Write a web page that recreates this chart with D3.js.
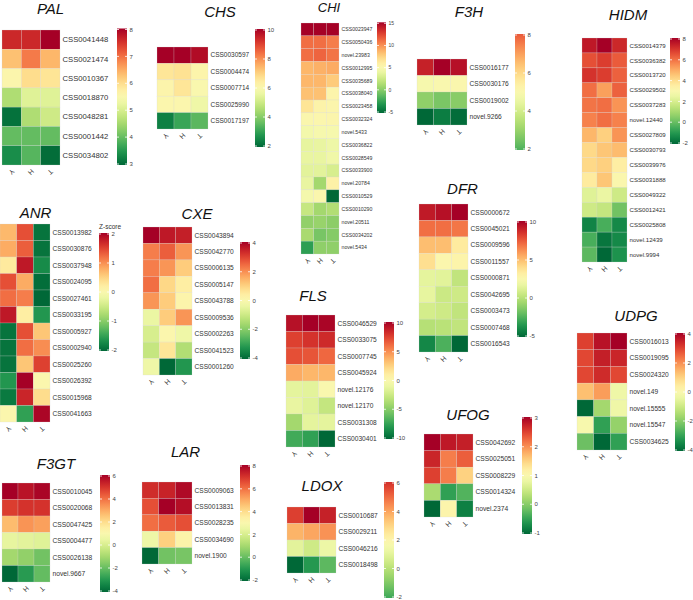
<!DOCTYPE html>
<html>
<head>
<meta charset="utf-8">
<script src="https://cdn.jsdelivr.net/npm/d3@7"></script>
<style>
  body { margin: 0; background: #fff; }
  text { font-family: "Liberation Sans", Arial, sans-serif; }
</style>
</head>
<body>
<svg id="chart" width="693" height="600"></svg>
<script>
// columns of every heatmap
const samples = ['Y', 'H', 'T']

const palGenes = ['CSS0041448', 'CSS0021474', 'CSS0010367', 'CSS0018870', 'CSS0048281', 'CSS0001442', 'CSS0034802']
const palValues = [[7.6, 7.6, 8.0], [6.3, 6.9, 6.4], [5.6, 6.0, 5.9], [4.6, 5.1, 5.1], [3.1, 4.6, 4.9], [4.0, 4.0, 4.0], [3.4, 3.9, 3.05]]

const chsGenes = ['CSS0030597', 'CSS0004474', 'CSS0007714', 'CSS0025990', 'CSS0017197']
const chsValues = [[10, 10, 9.8], [6.6, 6.7, 6.2], [6.2, 6.6, 6.0], [6.1, 6.1, 5.7], [2.4, 3.1, 3.5]]

const chiGenes = ['CSS0023947', 'CSS0050436', 'novel.23983', 'CSS0012995', 'CSS0035689', 'CSS0038040', 'CSS0023458',
    'CSS0032324', 'novel.5433', 'CSS0036822', 'CSS0028549', 'CSS0033900', 'novel.20784', 'CSS0010529',
    'CSS0010290', 'novel.20511', 'CSS0034202', 'novel.5434']
const chiValues = [[15, 15, 15], [11, 11, 10.5], [11, 11.3, 10.8], [8.6, 8.8, 9.0], [8.6, 8.6, 7.8], [8.2, 8.2, 5.5],
    [6.6, 5.6, 5.4], [5.2, 5.3, 5.4], [4.5, 4.8, 4.8], [3.8, 3.9, 4.2], [3.9, 3.9, 4.3], [3.6, 3.6, 3.0],
    [3.9, 1.0, 5.8], [4.6, 5.2, -5], [2.3, 1.0, 1.5], [0.4, 0.6, 0.2], [1.2, -0.4, 0], [-2.6, 0.3, 0.3]]

const f3hGenes = ['CSS0016177', 'CSS0030176', 'CSS0019002', 'novel.9266']
const f3hValues = [[8.9, 9.5, 9.2], [4.9, 5.0, 5.1], [2.9, 2.6, 2.8], [0.5, 0.9, 0.6]]

const hidmGenes = ['CSS0014379', 'CSS0036382', 'CSS0013720', 'CSS0029502', 'CSS0037283', 'novel.12440', 'CSS0027809',
    'CSS0030793', 'CSS0039976', 'CSS0031888', 'CSS0049322', 'CSS0012421', 'CSS0025808', 'novel.12439', 'novel.9994']
const hidmValues = [[7.5, 8, 7.2], [6.5, 6.8, 6.3], [7.0, 6.8, 6.2], [6.0, 5.2, 6.2], [5.9, 6.0, 5.4], [5.7, 6.0, 5.7],
    [4.8, 4.3, 5.4], [4.1, 4.5, 4.7], [4.1, 4.3, 3.5], [3.6, 4.5, 3.1], [2.2, 2.5, 1.8], [1.8, 1.6, 0.2],
    [-1.4, -0.4, -1.3], [-0.4, -1.7, -1.3], [-0.1, -2.0, -1.1]]

const anrGenes = ['CSS0013982', 'CSS0030876', 'CSS0037948', 'CSS0024095', 'CSS0027461', 'CSS0033195', 'CSS0005927',
    'CSS0002940', 'CSS0025260', 'CSS0026392', 'CSS0015968', 'CSS0041663']
const anrValues = [[0.7, 1.4, -1.9], [0.8, 1.3, -1.9], [0.25, 1.8, -1.7], [1.4, 0.8, -1.95], [1.2, 1.1, -2.0],
    [1.8, 0.2, -1.6], [-1.9, 1.4, 0.6], [-1.9, 1.2, 1.0], [-1.9, 0.6, 1.5], [-1.6, 2.0, 0.05], [-1.85, 1.7, 0.4],
    [0.05, -1.5, 1.95]]

const cxeGenes = ['CSS0043894', 'CSS0042770', 'CSS0006135', 'CSS0005147', 'CSS0043788', 'CSS0009536', 'CSS0002263',
    'CSS0041523', 'CSS0001260']
const cxeValues = [[4.0, 3.6, 3.5], [2.2, 2.6, 1.9], [2.2, 1.9, 1.1], [2.4, 0.9, 0.4], [1.9, 1.1, 0.2],
    [-0.4, 1.1, 1.9], [-0.8, 0.1, -0.3], [-1.1, 0.6, -1.4], [-0.3, -4.0, -3.2]]

const dfrGenes = ['CSS0000672', 'CSS0045021', 'CSS0009596', 'CSS0011557', 'CSS0000871', 'CSS0042695', 'CSS0003473',
    'CSS0007468', 'CSS0016543']
const dfrValues = [[9.2, 9.5, 10], [7.0, 7.0, 6.8], [5.0, 5.0, 3.4], [3.9, 2.7, 2.9], [1.5, 1.4, 0.3],
    [1.6, 0.6, 0.7], [0.9, 0.7, 0.3], [0.0, 0.1, 0.3], [-4.0, -2.5, -5.0]]

const flsGenes = ['CSS0046529', 'CSS0033075', 'CSS0007745', 'CSS0045924', 'novel.12176', 'novel.12170', 'CSS0031308', 'CSS0030401']
const flsValues = [[9.3, 10, 9.8], [7.5, 8.0, 8.3], [7.0, 6.8, 6.2], [4.0, 3.6, 3.6], [-1.3, -1.4, 0.1],
    [-1.1, -1.6, -2.8], [-4.0, -1.3, -1.3], [-7.0, -7.5, -10]]

const udpgGenes = ['CSS0016013', 'CSS0019095', 'CSS0024320', 'novel.149', 'novel.15555', 'novel.15547', 'CSS0034625']
const udpgValues = [[3.0, 3.7, 4.0], [2.9, 3.5, 3.4], [2.9, 3.3, 2.9], [1.3, 1.8, -0.3], [-4.0, -1.6, -0.3],
    [-0.05, -3.0, -1.8], [-2.3, -4.0, -3.0]]

const f3gtGenes = ['CSS0010045', 'CSS0020068', 'CSS0047425', 'CSS0004477', 'CSS0026138', 'novel.9667']
const f3gtValues = [[6.0, 5.6, 5.9], [4.8, 5.0, 5.0], [2.7, 3.4, 3.2], [0.4, 0.3, 0.2], [-1.0, -1.3, -1.8], [-4.0, -2.9, -2.0]]

const larGenes = ['CSS0009063', 'CSS0013831', 'CSS0028235', 'CSS0034690', 'novel.1900']
const larValues = [[7.1, 7.3, 7.8], [6.5, 8.0, 7.7], [6.0, 6.3, 6.5], [2.6, 4.3, 3.3], [-2.0, 0.2, 0.3]]

const ldoxGenes = ['CSS0010687', 'CSS0029211', 'CSS0046216', 'CSS0018498']
const ldoxValues = [[5.7, 7.0, 6.3], [3.7, 3.95, 4.3], [1.0, 0.5, 1.3], [-3.5, -2.4, -1.5]]

const ufogGenes = ['CSS0042692', 'CSS0025051', 'CSS0008229', 'CSS0014324', 'novel.2374']
const ufogValues = [[3.0, 2.8, 2.75], [2.7, 2.1, 2.3], [2.5, 2.1, 1.5], [0.25, -0.5, -0.3], [-1.0, 1.1, -0.8]]

// legend ranges [min, max, step]
const palTicks = [3, 8, 1]
const chsTicks = [2, 10, 2]
const chiTicks = [-5, 15, 5]
const f3hTicks = [2, 8, 2]
const hidmTicks = [-2, 8, 2]
const anrTicks = [-2, 2, 1]
const cxeTicks = [-4, 4, 2]
const dfrTicks = [-5, 10, 5]
const flsTicks = [-10, 10, 5]
const udpgTicks = [-4, 4, 2]
const f3gtTicks = [-4, 6, 2]
const larTicks = [-2, 8, 2]
const ldoxTicks = [-2, 6, 2]
const ufogTicks = [-1, 3, 1]

// hm: [x0, y0, x1, y1]; title: [cx, baseline, size]; leg: [x, yMax, yMin]
const panels = [
    { title: 'PAL', genes: palGenes, values: palValues, ticks: palTicks,
      hm: [2, 30, 60, 165], t: [50.5, 13.5, 15], leg: [117, 29.5, 164], lab: 7.7 },
    { title: 'CHS', genes: chsGenes, values: chsValues, ticks: chsTicks,
      hm: [157, 47, 208, 129], t: [220, 17, 15], leg: [255, 30, 146], lab: 6.5 },
    { title: 'CHI', genes: chiGenes, values: chiValues, ticks: chiTicks,
      hm: [301, 23, 339, 254], t: [329, 12, 13], leg: [377, 23.3, 112], lab: 5.2, legW: 9, tickSize: 5 },
    { title: 'F3H', genes: f3hGenes, values: f3hValues, ticks: f3hTicks, cd: [0.5, 9.5],
      hm: [417, 59, 467, 125], t: [469, 17, 15], leg: [515, 35, 149], lab: 6.6 },
    { title: 'HIDM', genes: hidmGenes, values: hidmValues, ticks: hidmTicks,
      hm: [582, 38, 627, 262], t: [628, 20, 15], leg: [670, 39, 143], lab: 6.1 },
    { title: 'ANR', genes: anrGenes, values: anrValues, ticks: anrTicks, zlabel: true,
      hm: [0, 224, 50, 422], t: [35.5, 218, 15], leg: [99, 234, 350], lab: 6.6 },
    { title: 'CXE', genes: cxeGenes, values: cxeValues, ticks: cxeTicks,
      hm: [143, 227, 192, 375], t: [197, 219, 15], leg: [240, 243, 358], lab: 6.6 },
    { title: 'DFR', genes: dfrGenes, values: dfrValues, ticks: dfrTicks,
      hm: [419, 204, 468, 352], t: [462.5, 194, 15], leg: [517, 222, 336], lab: 6.6 },
    { title: 'FLS', genes: flsGenes, values: flsValues, ticks: flsTicks,
      hm: [286, 315, 335, 447], t: [313, 301, 15], leg: [384, 323, 438], lab: 6.6 },
    { title: 'UDPG', genes: udpgGenes, values: udpgValues, ticks: udpgTicks,
      hm: [577, 333, 627, 450], t: [636, 321, 15], leg: [675, 334, 450], lab: 6.6 },
    { title: 'F3GT', genes: f3gtGenes, values: f3gtValues, ticks: f3gtTicks,
      hm: [2, 483, 50, 582], t: [56, 469, 15], leg: [100, 476, 591], lab: 6.7 },
    { title: 'LAR', genes: larGenes, values: larValues, ticks: larTicks,
      hm: [142, 482, 192, 564], t: [185.5, 457, 15], leg: [240, 466, 580], lab: 6.6 },
    { title: 'LDOX', genes: ldoxGenes, values: ldoxValues, ticks: ldoxTicks, cd: [-3.5, 7],
      hm: [287, 507, 336, 573], t: [322, 491, 15], leg: [384, 483, 597], lab: 6.6 },
    { title: 'UFOG', genes: ufogGenes, values: ufogValues, ticks: ufogTicks,
      hm: [424, 434, 473, 517], t: [468, 420, 15], leg: [522, 418, 533], lab: 6.7 }
]

const svg = d3.select('#chart')
const defs = svg.append('defs')

function drawPanel(p, idx) {
    const g = svg.append('g')
    const [mn, mx, step] = p.ticks
    const cd = p.cd || [mn, mx]
    const color = d3.scaleSequential(t => d3.interpolateRdYlGn(1 - t)).domain(cd).clamp(true)

    const x = d3.scaleBand().domain(samples).range([p.hm[0], p.hm[2]])
    const y = d3.scaleBand().domain(p.genes).range([p.hm[1], p.hm[3]])

    // title
    g.append('text')
        .attr('x', p.t[0])
        .attr('y', p.t[1])
        .attr('text-anchor', 'middle')
        .style('font-style', 'italic')
        .style('font-size', p.t[2] + 'px')
        .attr('fill', '#111')
        .text(p.title)

    // cells
    const cells = p.genes.flatMap((gene, i) => samples.map((s, j) => ({gene, s, v: p.values[i][j]})))
    g.selectAll(null)
        .data(cells)
        .enter()
        .append('rect')
        .attr('x', d => x(d.s))
        .attr('y', d => y(d.gene))
        .attr('width', x.bandwidth())
        .attr('height', y.bandwidth())
        .attr('fill', d => color(d.v))
        .attr('stroke', '#d8d8d8')
        .attr('stroke-opacity', 0.45)
        .attr('stroke-width', 0.5)

    // row labels
    g.selectAll(null)
        .data(p.genes)
        .enter()
        .append('text')
        .attr('x', p.hm[2] + 2.5)
        .attr('y', d => y(d) + y.bandwidth() / 2)
        .attr('dy', '0.35em')
        .style('font-size', p.lab + 'px')
        .attr('fill', '#333')
        .text(d => d)

    // column labels (rotated)
    g.selectAll(null)
        .data(samples)
        .enter()
        .append('text')
        .attr('transform', d => `translate(${x(d) + x.bandwidth() / 2},${p.hm[3] + 7}) rotate(135)`)
        .attr('text-anchor', 'middle')
        .attr('dy', '0.35em')
        .style('font-size', '7px')
        .attr('fill', '#333')
        .text(d => d)

    // legend
    const lw = p.legW || 10
    const ly = d3.scaleLinear().domain([mn, mx]).range([p.leg[2], p.leg[1]])
    const gid = 'grad' + idx
    const grad = defs.append('linearGradient')
        .attr('id', gid)
        .attr('x1', 0).attr('x2', 0).attr('y1', 1).attr('y2', 0)
    d3.range(0, 1.0001, 0.05).forEach(f => {
        grad.append('stop')
            .attr('offset', f)
            .attr('stop-color', color(mn + f * (mx - mn)))
    })
    g.append('rect')
        .attr('x', p.leg[0])
        .attr('y', ly(mx) - 1)
        .attr('width', lw)
        .attr('height', ly(mn) - ly(mx) + 2)
        .attr('fill', `url(#${gid})`)

    const tickVals = d3.range(mn, mx + step / 2, step)
    const tg = g.selectAll(null)
        .data(tickVals)
        .enter()
        .append('g')
        .attr('transform', d => `translate(${p.leg[0]},${ly(d)})`)
    tg.append('line')
        .attr('x1', 0).attr('x2', 2)
        .attr('stroke', '#fff').attr('stroke-width', 0.8)
    tg.append('line')
        .attr('x1', lw - 2).attr('x2', lw)
        .attr('stroke', '#fff').attr('stroke-width', 0.8)
    tg.append('text')
        .attr('x', lw + 2.5)
        .attr('dy', '0.35em')
        .style('font-size', (p.tickSize || 6) + 'px')
        .attr('fill', '#444')
        .text(d => d)

    if (p.zlabel) {
        g.append('text')
            .attr('x', p.leg[0])
            .attr('y', p.leg[1] - 5)
            .style('font-size', '6.5px')
            .attr('fill', '#333')
            .text('Z-score')
    }
}

panels.forEach(drawPanel)
</script>
</body>
</html>
